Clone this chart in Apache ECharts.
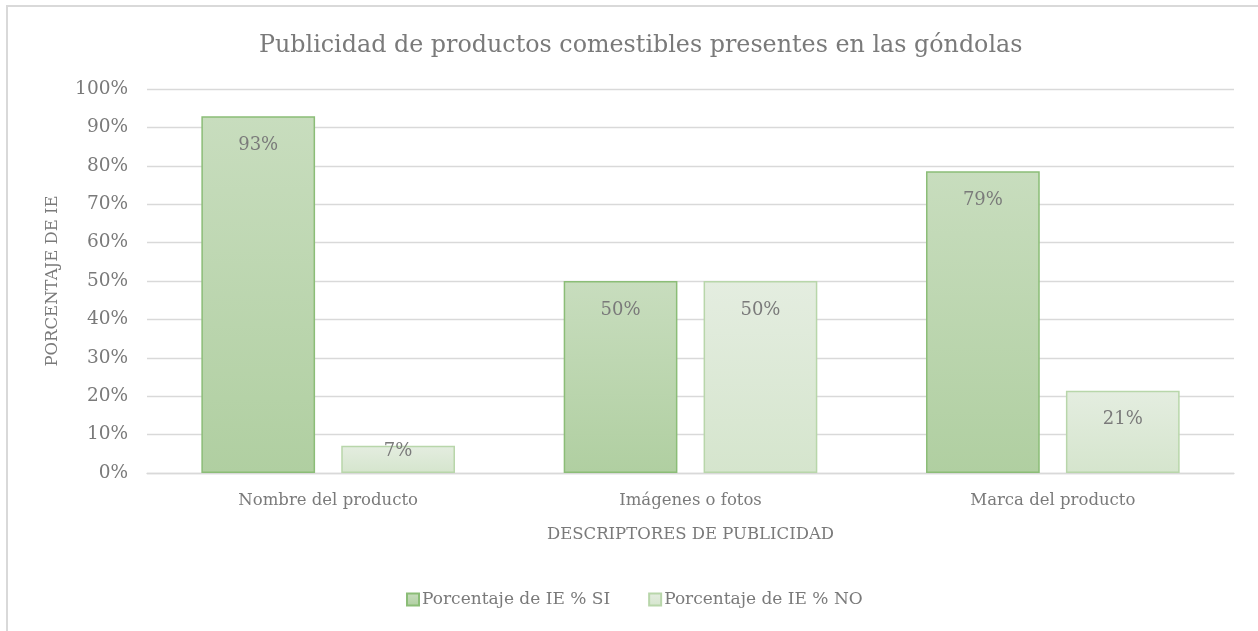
<!DOCTYPE html>
<html>
<head>
<meta charset="utf-8">
<script src="https://cdn.jsdelivr.net/npm/echarts@6/dist/echarts.min.js"></script>
<style>
  html, body { margin: 0; padding: 0; background: #fff; }
  #chart { width: 1258px; height: 631px; }
</style>
</head>
<body>
<div id="chart"></div>
<script>
// categorías y valores (en %)
const categories = ['Nombre del producto', 'Imágenes o fotos', 'Marca del producto']
const valuesSi = [92.9, 50, 78.6]
const valuesNo = [7.1, 50, 21.4]
const seriesNames = ['Porcentaje de IE % SI', 'Porcentaje de IE % NO']

const FONT = 'DejaVu Serif'
const TXT = '#7a7a7a'

const grad = (top, bottom) => ({
  type: 'linear', x: 0, y: 0, x2: 0, y2: 1,
  colorStops: [{ offset: 0, color: top }, { offset: 1, color: bottom }]
})

const labelCfg = {
  show: true,
  position: 'insideTop',
  distance: 20,
  color: TXT,
  fontFamily: FONT,
  fontSize: 18,
  formatter: (p) => Math.round(p.value) + '%'
}

// barras bajas: la etiqueta queda sobre el borde superior, como en Excel
const toData = (arr) => arr.map((v) => (v < 10
  ? { value: v, label: { position: 'top', distance: -15 } }
  : v))

const myChart = echarts.init(document.getElementById('chart'))

myChart.setOption({
  animation: false,
  textStyle: { fontFamily: FONT },
  // marco del gráfico
  graphic: [{
    type: 'rect',
    shape: { x: 7, y: 6, width: 1300, height: 700 },
    style: { fill: 'none', stroke: '#d9d9d9', lineWidth: 2 },
    silent: true
  }],
  title: {
    text: 'Publicidad de productos comestibles presentes en las góndolas',
    left: 254,
    top: 29,
    textStyle: { color: TXT, fontFamily: FONT, fontSize: 23.8, fontWeight: 'normal' }
  },
  legend: {
    data: seriesNames,
    bottom: 18,
    left: 401,
    itemWidth: 12,
    itemHeight: 12,
    itemGap: 38,
    icon: 'rect',
    textStyle: { color: TXT, fontFamily: FONT, fontSize: 17, padding: [0, 0, 0, -2] }
  },
  grid: { left: 147, right: 24, top: 89, bottom: 158 },
  xAxis: {
    type: 'category',
    data: categories,
    name: 'DESCRIPTORES DE PUBLICIDAD',
    nameLocation: 'middle',
    nameGap: 53,
    nameTextStyle: { color: TXT, fontFamily: FONT, fontSize: 16.5 },
    axisLine: { lineStyle: { color: '#d9d9d9', width: 1.3 } },
    axisTick: { show: false },
    axisLabel: { color: TXT, fontFamily: FONT, fontSize: 16.5, margin: 19 }
  },
  yAxis: {
    type: 'value',
    min: 0,
    max: 100,
    interval: 10,
    name: 'PORCENTAJE DE IE',
    nameLocation: 'middle',
    nameGap: 86,
    nameTextStyle: { color: TXT, fontFamily: FONT, fontSize: 16.5 },
    axisLine: { show: false },
    axisTick: { show: false },
    axisLabel: { color: TXT, fontFamily: FONT, fontSize: 18.5, margin: 19, formatter: '{value}%' },
    splitLine: { lineStyle: { color: '#d9d9d9', width: 1.3 } }
  },
  series: [
    {
      name: seriesNames[0],
      type: 'bar',
      data: toData(valuesSi),
      barCategoryGap: '30%',
      barGap: '23%',
      itemStyle: {
        color: grad('#c8ddbe', '#b0cfa1'),
        borderColor: '#8bbd77',
        borderWidth: 1.5
      },
      label: labelCfg
    },
    {
      name: seriesNames[1],
      type: 'bar',
      data: toData(valuesNo),
      itemStyle: {
        color: grad('#e4ede0', '#d5e5cd'),
        borderColor: '#b8d6aa',
        borderWidth: 1.5
      },
      label: labelCfg
    }
  ]
})
</script>
</body>
</html>
